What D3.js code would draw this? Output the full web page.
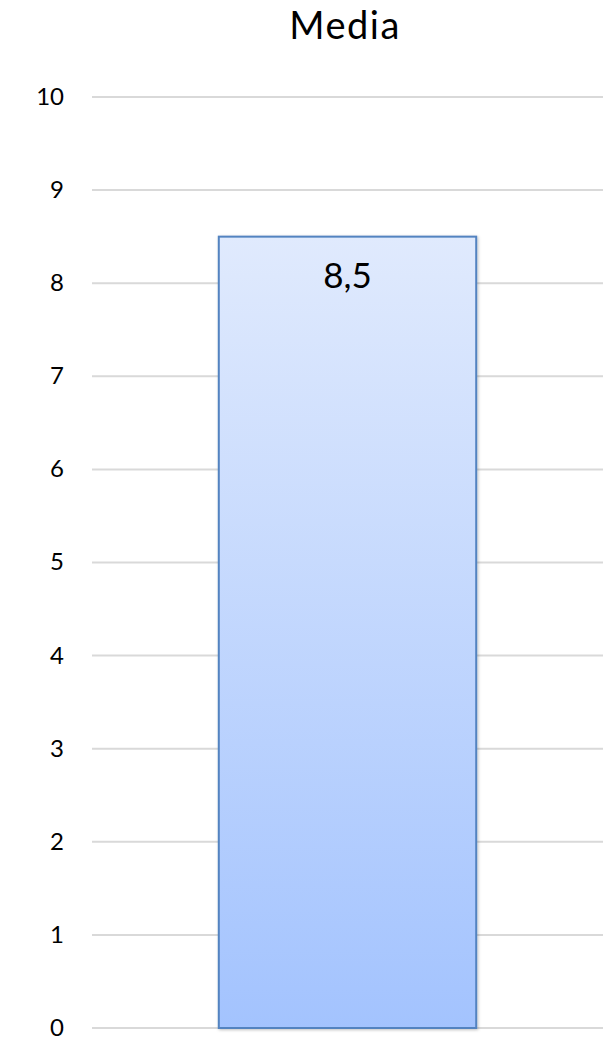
<!DOCTYPE html>
<html>
<head>
<meta charset="utf-8">
<script src="https://cdn.jsdelivr.net/npm/d3@7"></script>
<style>
  body { margin: 0; background: #fff; }
  svg text { font-family: Lato, "Open Sans", sans-serif; fill: #000; }
</style>
</head>
<body>
<svg id="chart"></svg>
<script>
var categories = ["Media"];
var values = [8.5];
var labels = ["8,5"];
var yTicks = [0, 1, 2, 3, 4, 5, 6, 7, 8, 9, 10];

var width = 615,
    height = 1040;
var plotLeft = 92,
    plotRight = 603,
    plotTop = 97,
    plotBottom = 1028;

var svg = d3.select("#chart")
    .attr("width", width)
    .attr("height", height);

var defs = svg.append("defs");
var grad = defs.append("linearGradient")
    .attr("id", "barGrad")
    .attr("x1", 0).attr("y1", 0)
    .attr("x2", 0).attr("y2", 1);
grad.append("stop").attr("offset", "0%").attr("stop-color", "#e0eafd");
grad.append("stop").attr("offset", "100%").attr("stop-color", "#a3c3fe");

var shadow = defs.append("filter").attr("id", "shadow")
    .attr("x", "-10%").attr("y", "-10%").attr("width", "120%").attr("height", "120%");
shadow.append("feDropShadow")
    .attr("dx", 1).attr("dy", 1).attr("stdDeviation", 1.5)
    .attr("flood-color", "#000").attr("flood-opacity", 0.25);

var x = d3.scaleBand()
    .domain(categories)
    .range([plotLeft, plotRight])
    .padding(0.33);

var y = d3.scaleLinear()
    .domain([0, 10])
    .range([plotBottom, plotTop]);

// gridlines
svg.append("g")
    .selectAll("line")
    .data(yTicks)
    .join("line")
    .attr("x1", plotLeft)
    .attr("x2", plotRight)
    .attr("y1", d => y(d))
    .attr("y2", d => y(d))
    .attr("stroke", "#d9d9d9")
    .attr("stroke-width", 2);

// y tick labels
svg.append("g")
    .selectAll("text")
    .data(yTicks)
    .join("text")
    .attr("x", 64)
    .attr("y", d => y(d))
    .attr("dy", "0.33em")
    .attr("text-anchor", "end")
    .attr("font-size", "24px")
    .text(d => d);

// bars
svg.append("g")
    .selectAll("rect")
    .data(values)
    .join("rect")
    .attr("x", (d, i) => x(categories[i]))
    .attr("y", d => y(d))
    .attr("width", x.bandwidth())
    .attr("height", d => y(0) - y(d))
    .attr("fill", "url(#barGrad)")
    .attr("stroke", "#5283c0")
    .attr("stroke-width", 2)
    .attr("filter", "url(#shadow)");

// data labels
svg.append("g")
    .selectAll("text")
    .data(values)
    .join("text")
    .attr("x", (d, i) => x(categories[i]) + x.bandwidth() / 2)
    .attr("y", d => y(d) + 51)
    .attr("text-anchor", "middle")
    .attr("font-size", "35px")
    .text((d, i) => labels[i]);

// title
svg.append("text")
    .attr("x", 345)
    .attr("y", 39)
    .attr("text-anchor", "middle")
    .attr("font-size", "38px")
    .attr("letter-spacing", "1.5px")
    .text("Media");
</script>
</body>
</html>
